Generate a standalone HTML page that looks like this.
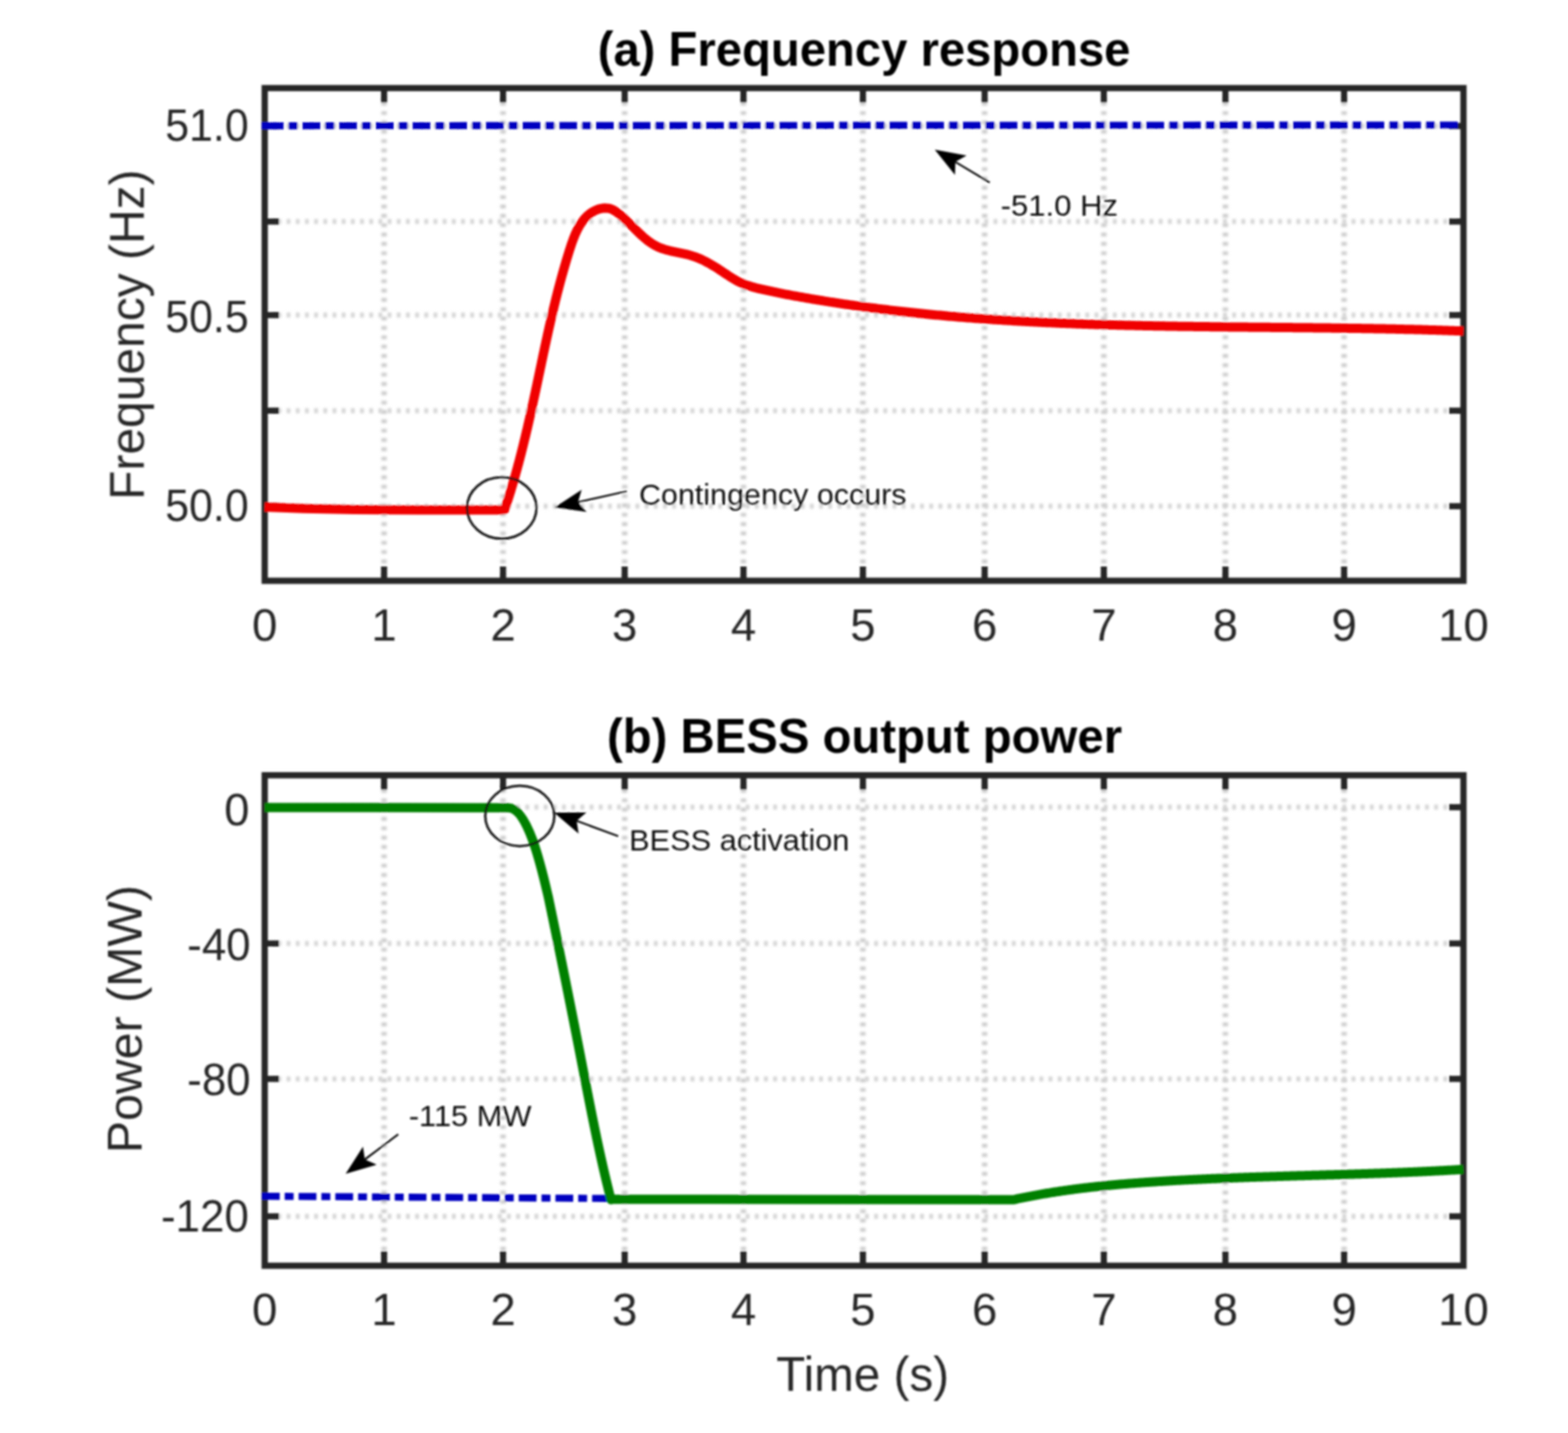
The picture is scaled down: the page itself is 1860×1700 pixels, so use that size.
<!DOCTYPE html>
<html><head><meta charset="utf-8"><title>Frequency response and BESS output power</title><style>html,body{margin:0;padding:0;background:#fff;width:1860px;height:1700px;overflow:hidden}svg{display:block}</style></head><body>
<svg width="1860" height="1700" viewBox="0 0 1860 1700">
<rect width="1860" height="1700" fill="#fff"/>
<defs><filter id="gb" x="-2%" y="-2%" width="104%" height="104%"><feGaussianBlur stdDeviation="1.0"/></filter><filter id="soft" x="0" y="0" width="1860" height="1700" filterUnits="userSpaceOnUse"><feGaussianBlur stdDeviation="0.8"/></filter></defs>
<g filter="url(#soft)">
<g stroke="#cbcbcb" stroke-width="6.4" stroke-dasharray="4.4 6.68" fill="none" filter="url(#gb)"><line x1="455.6" y1="109.8" x2="455.6" y2="685"/><line x1="596.7" y1="109.8" x2="596.7" y2="685"/><line x1="741" y1="109.8" x2="741" y2="685"/><line x1="881.9" y1="109.8" x2="881.9" y2="685"/><line x1="1023.6" y1="109.8" x2="1023.6" y2="685"/><line x1="1168" y1="109.8" x2="1168" y2="685"/><line x1="1309.4" y1="109.8" x2="1309.4" y2="685"/><line x1="1453.6" y1="109.8" x2="1453.6" y2="685"/><line x1="1594.4" y1="109.8" x2="1594.4" y2="685"/></g>
<g stroke="#d3d3d3" stroke-width="6" stroke-dasharray="4.4 6.49" fill="none" filter="url(#gb)"><line x1="318.3" y1="149.5" x2="1732" y2="149.5"/><line x1="318.3" y1="262.8" x2="1732" y2="262.8"/><line x1="318.3" y1="373.8" x2="1732" y2="373.8"/><line x1="318.3" y1="487.2" x2="1732" y2="487.2"/><line x1="318.3" y1="600.5" x2="1732" y2="600.5"/></g>
<g stroke="#262626" stroke-width="7.4" fill="none"><line x1="455.6" y1="689" x2="455.6" y2="672"/><line x1="455.6" y1="104.5" x2="455.6" y2="121.5"/><line x1="596.7" y1="689" x2="596.7" y2="672"/><line x1="596.7" y1="104.5" x2="596.7" y2="121.5"/><line x1="741" y1="689" x2="741" y2="672"/><line x1="741" y1="104.5" x2="741" y2="121.5"/><line x1="881.9" y1="689" x2="881.9" y2="672"/><line x1="881.9" y1="104.5" x2="881.9" y2="121.5"/><line x1="1023.6" y1="689" x2="1023.6" y2="672"/><line x1="1023.6" y1="104.5" x2="1023.6" y2="121.5"/><line x1="1168" y1="689" x2="1168" y2="672"/><line x1="1168" y1="104.5" x2="1168" y2="121.5"/><line x1="1309.4" y1="689" x2="1309.4" y2="672"/><line x1="1309.4" y1="104.5" x2="1309.4" y2="121.5"/><line x1="1453.6" y1="689" x2="1453.6" y2="672"/><line x1="1453.6" y1="104.5" x2="1453.6" y2="121.5"/><line x1="1594.4" y1="689" x2="1594.4" y2="672"/><line x1="1594.4" y1="104.5" x2="1594.4" y2="121.5"/><line x1="314" y1="149.5" x2="331" y2="149.5"/><line x1="1736" y1="149.5" x2="1719" y2="149.5"/><line x1="314" y1="262.8" x2="331" y2="262.8"/><line x1="1736" y1="262.8" x2="1719" y2="262.8"/><line x1="314" y1="373.8" x2="331" y2="373.8"/><line x1="1736" y1="373.8" x2="1719" y2="373.8"/><line x1="314" y1="487.2" x2="331" y2="487.2"/><line x1="1736" y1="487.2" x2="1719" y2="487.2"/><line x1="314" y1="600.5" x2="331" y2="600.5"/><line x1="1736" y1="600.5" x2="1719" y2="600.5"/></g>
<rect x="314" y="104.5" width="1422" height="584.5" fill="none" stroke="#262626" stroke-width="7.4"/>
<line x1="310.5" y1="149.2" x2="317" y2="149.2" stroke="#0000c0" stroke-width="8.4"/>
<line x1="315.3" y1="149.2" x2="1730" y2="148.4" stroke="#0000c0" stroke-width="8.4" stroke-dasharray="21.12 5.9 10.6 5.9"/>
<path d="M314.0,601.6 L360.0,603.2 L420.0,604.5 L500.0,605.0 L594.0,604.9 L598.68,604.46 L599.43,602.25 L600.17,600.02 L600.91,597.79 L601.64,595.55 L602.37,593.31 L603.09,591.06 L603.80,588.81 L604.51,586.55 L605.21,584.28 L605.91,582.01 L606.60,579.73 L607.28,577.45 L607.96,575.16 L608.64,572.87 L609.31,570.58 L609.97,568.27 L610.63,565.97 L611.29,563.66 L611.93,561.35 L612.58,559.03 L613.22,556.71 L613.85,554.39 L614.48,552.06 L615.11,549.73 L615.73,547.39 L616.34,545.06 L616.95,542.72 L617.56,540.38 L618.16,538.03 L618.76,535.69 L619.36,533.34 L619.94,530.99 L620.53,528.64 L621.11,526.28 L621.69,523.93 L622.26,521.57 L622.83,519.22 L623.40,516.86 L623.96,514.50 L624.52,512.14 L625.08,509.78 L625.63,507.42 L626.18,505.06 L626.72,502.70 L627.26,500.34 L627.80,497.99 L628.34,495.63 L628.87,493.27 L629.40,490.91 L629.92,488.56 L630.45,486.20 L630.97,483.85 L631.48,481.50 L632.00,479.15 L632.51,476.80 L633.02,474.45 L633.53,472.11 L634.03,469.77 L634.54,467.43 L635.04,465.09 L635.54,462.76 L636.03,460.42 L636.53,458.09 L637.02,455.76 L637.51,453.43 L638.01,451.10 L638.50,448.78 L638.99,446.45 L639.48,444.13 L639.96,441.81 L640.45,439.49 L640.94,437.17 L641.43,434.85 L641.92,432.53 L642.40,430.21 L642.89,427.89 L643.38,425.58 L643.87,423.26 L644.36,420.95 L644.85,418.63 L645.35,416.32 L645.84,414.00 L646.34,411.69 L646.83,409.38 L647.33,407.06 L647.83,404.75 L648.33,402.44 L648.84,400.12 L649.35,397.81 L649.86,395.49 L650.37,393.18 L650.88,390.86 L651.40,388.55 L651.92,386.23 L652.45,383.91 L652.97,381.59 L653.51,379.28 L654.04,376.96 L654.58,374.63 L655.12,372.31 L655.67,369.99 L656.22,367.66 L656.78,365.34 L657.34,363.01 L657.90,360.68 L658.47,358.35 L659.05,356.02 L659.63,353.69 L660.21,351.35 L660.80,349.01 L661.40,346.68 L662.00,344.33 L662.61,341.99 L663.23,339.65 L663.85,337.30 L664.48,334.95 L665.11,332.60 L665.75,330.24 L666.40,327.88 L667.05,325.52 L667.72,323.16 L668.38,320.79 L669.06,318.43 L669.75,316.06 L670.44,313.68 L671.14,311.30 L671.85,308.92 L672.56,306.54 L673.29,304.15 L674.02,301.76 L674.76,299.37 L675.51,296.97 L676.28,294.58 L677.06,292.19 L677.85,289.81 L678.67,287.44 L679.52,285.10 L680.39,282.78 L681.30,280.49 L682.24,278.23 L683.22,276.01 L684.24,273.83 L685.31,271.70 L686.43,269.62 L687.59,267.60 L688.82,265.64 L690.10,263.74 L691.44,261.91 L692.84,260.16 L694.32,258.48 L695.86,256.89 L697.48,255.39 L699.18,253.98 L700.96,252.66 L702.82,251.45 L704.77,250.35 L706.79,249.37 L708.86,248.53 L710.98,247.84 L713.13,247.31 L715.31,246.97 L717.50,246.82 L719.68,246.88 L721.84,247.17 L723.98,247.69 L726.08,248.46 L728.13,249.46 L730.15,250.67 L732.13,252.03 L734.07,253.53 L735.97,255.11 L737.85,256.76 L739.70,258.44 L741.52,260.14 L743.33,261.87 L745.11,263.61 L746.88,265.37 L748.64,267.13 L750.39,268.89 L752.14,270.64 L753.89,272.38 L755.64,274.11 L757.39,275.81 L759.15,277.49 L760.93,279.14 L762.72,280.75 L764.54,282.32 L766.37,283.84 L768.23,285.31 L770.12,286.72 L772.05,288.07 L774.01,289.34 L776.01,290.55 L778.06,291.67 L780.15,292.71 L782.29,293.66 L784.48,294.53 L786.71,295.31 L788.99,296.02 L791.30,296.68 L793.64,297.28 L796.00,297.84 L798.38,298.37 L800.78,298.87 L803.19,299.36 L805.60,299.85 L808.01,300.34 L810.41,300.85 L812.81,301.38 L815.18,301.94 L817.54,302.54 L819.87,303.20 L822.17,303.92 L824.43,304.70 L826.67,305.53 L828.88,306.42 L831.07,307.37 L833.23,308.36 L835.37,309.40 L837.49,310.48 L839.59,311.60 L841.68,312.75 L843.75,313.94 L845.81,315.17 L847.85,316.42 L849.89,317.69 L851.92,318.99 L853.94,320.31 L855.96,321.64 L857.98,322.99 L860.00,324.34 L862.02,325.69 L864.05,327.02 L866.08,328.34 L868.13,329.63 L870.19,330.88 L872.27,332.10 L874.37,333.26 L876.49,334.36 L878.63,335.40 L880.80,336.36 L883.00,337.26 L885.22,338.09 L887.46,338.86 L889.72,339.57 L892.00,340.24 L894.30,340.88 L896.60,341.48 L898.92,342.05 L901.24,342.60 L903.57,343.14 L905.91,343.67 L908.24,344.19 L910.58,344.70 L912.93,345.21 L915.27,345.71 L917.62,346.21 L919.97,346.69 L922.32,347.17 L924.67,347.65 L927.03,348.12 L929.39,348.58 L931.75,349.03 L934.11,349.49 L936.47,349.93 L938.84,350.38 L941.20,350.81 L943.57,351.25 L945.94,351.67 L948.30,352.10 L950.67,352.52 L953.04,352.94 L955.41,353.35 L957.78,353.76 L960.15,354.17 L962.52,354.57 L964.89,354.98 L967.26,355.37 L969.63,355.77 L972.00,356.16 L974.37,356.54 L976.75,356.93 L979.12,357.31 L981.49,357.69 L983.86,358.06 L986.24,358.43 L988.61,358.80 L990.98,359.17 L993.36,359.53 L995.73,359.89 L998.11,360.24 L1000.48,360.59 L1002.86,360.94 L1005.23,361.29 L1007.61,361.63 L1009.99,361.97 L1012.36,362.31 L1014.74,362.64 L1017.12,362.97 L1019.49,363.30 L1021.87,363.62 L1024.25,363.94 L1026.63,364.26 L1029.00,364.58 L1031.38,364.89 L1033.76,365.20 L1036.14,365.51 L1038.52,365.81 L1040.90,366.11 L1043.28,366.41 L1045.66,366.71 L1048.04,367.00 L1050.42,367.29 L1052.80,367.58 L1055.18,367.86 L1057.57,368.14 L1059.95,368.42 L1062.33,368.70 L1064.71,368.97 L1067.09,369.24 L1069.48,369.51 L1071.86,369.77 L1074.24,370.04 L1076.63,370.30 L1079.01,370.55 L1081.39,370.81 L1083.78,371.06 L1086.16,371.31 L1088.55,371.55 L1090.93,371.80 L1093.32,372.04 L1095.70,372.28 L1098.09,372.52 L1100.47,372.75 L1102.86,372.98 L1105.25,373.21 L1107.63,373.44 L1110.02,373.66 L1112.41,373.88 L1114.79,374.10 L1117.18,374.32 L1119.57,374.53 L1121.96,374.74 L1124.35,374.95 L1126.73,375.16 L1129.12,375.37 L1131.51,375.57 L1133.90,375.77 L1136.29,375.97 L1138.68,376.16 L1141.07,376.36 L1143.46,376.55 L1145.85,376.74 L1148.24,376.92 L1150.63,377.11 L1153.02,377.29 L1155.41,377.47 L1157.80,377.65 L1160.19,377.83 L1162.58,378.00 L1164.97,378.17 L1167.37,378.34 L1169.76,378.51 L1172.15,378.67 L1174.54,378.84 L1176.93,379.00 L1179.33,379.16 L1181.72,379.32 L1184.11,379.47 L1186.51,379.62 L1188.90,379.78 L1191.29,379.92 L1193.69,380.07 L1196.08,380.22 L1198.47,380.36 L1200.87,380.50 L1203.26,380.64 L1205.66,380.78 L1208.05,380.92 L1210.45,381.05 L1212.84,381.19 L1215.24,381.32 L1217.63,381.45 L1220.03,381.57 L1222.42,381.70 L1224.82,381.82 L1227.21,381.94 L1229.61,382.06 L1232.00,382.18 L1234.40,382.30 L1236.80,382.42 L1239.19,382.53 L1241.59,382.64 L1243.99,382.75 L1246.38,382.86 L1248.78,382.97 L1251.18,383.07 L1253.58,383.18 L1255.97,383.28 L1258.37,383.38 L1260.77,383.48 L1263.17,383.58 L1265.56,383.68 L1267.96,383.77 L1270.36,383.86 L1272.76,383.96 L1275.16,384.05 L1277.55,384.14 L1279.95,384.22 L1282.35,384.31 L1284.75,384.40 L1287.15,384.48 L1289.55,384.56 L1291.95,384.64 L1294.35,384.72 L1296.75,384.80 L1299.15,384.88 L1301.55,384.95 L1303.94,385.03 L1306.34,385.10 L1308.74,385.18 L1311.14,385.25 L1313.54,385.32 L1315.94,385.38 L1318.34,385.45 L1320.74,385.52 L1323.15,385.58 L1325.55,385.65 L1327.95,385.71 L1330.35,385.77 L1332.75,385.83 L1335.15,385.89 L1337.55,385.95 L1339.95,386.01 L1342.35,386.07 L1344.75,386.12 L1347.15,386.18 L1349.55,386.23 L1351.96,386.28 L1354.36,386.34 L1356.76,386.39 L1359.16,386.44 L1361.56,386.49 L1363.96,386.53 L1366.36,386.58 L1368.77,386.63 L1371.17,386.67 L1373.57,386.72 L1375.97,386.76 L1378.37,386.81 L1380.77,386.85 L1383.18,386.89 L1385.58,386.93 L1387.98,386.97 L1390.38,387.01 L1392.78,387.05 L1395.19,387.09 L1397.59,387.13 L1399.99,387.16 L1402.39,387.20 L1404.80,387.23 L1407.20,387.27 L1409.60,387.30 L1412.00,387.34 L1414.41,387.37 L1416.81,387.40 L1419.21,387.44 L1421.61,387.47 L1424.01,387.50 L1426.42,387.53 L1428.82,387.56 L1431.22,387.59 L1433.62,387.62 L1436.03,387.65 L1438.43,387.68 L1440.83,387.70 L1443.24,387.73 L1445.64,387.76 L1448.04,387.78 L1450.44,387.81 L1452.85,387.84 L1455.25,387.86 L1457.65,387.89 L1460.05,387.91 L1462.46,387.94 L1464.86,387.96 L1467.26,387.99 L1469.66,388.01 L1472.07,388.04 L1474.47,388.06 L1476.87,388.08 L1479.27,388.11 L1481.68,388.13 L1484.08,388.15 L1486.48,388.18 L1488.88,388.20 L1491.29,388.22 L1493.69,388.24 L1496.09,388.27 L1498.49,388.29 L1500.89,388.31 L1503.30,388.34 L1505.70,388.36 L1508.10,388.38 L1510.50,388.40 L1512.91,388.43 L1515.31,388.45 L1517.71,388.47 L1520.11,388.49 L1522.51,388.52 L1524.91,388.54 L1527.32,388.56 L1529.72,388.59 L1532.12,388.61 L1534.52,388.63 L1536.92,388.66 L1539.32,388.68 L1541.73,388.71 L1544.13,388.73 L1546.53,388.76 L1548.93,388.78 L1551.33,388.81 L1553.73,388.83 L1556.13,388.86 L1558.53,388.88 L1560.94,388.91 L1563.34,388.94 L1565.74,388.96 L1568.14,388.99 L1570.54,389.02 L1572.94,389.05 L1575.34,389.08 L1577.74,389.11 L1580.14,389.14 L1582.54,389.17 L1584.94,389.20 L1587.34,389.23 L1589.74,389.26 L1592.14,389.29 L1594.54,389.32 L1596.94,389.36 L1599.34,389.39 L1601.74,389.43 L1604.14,389.46 L1606.54,389.50 L1608.94,389.53 L1611.34,389.57 L1613.74,389.61 L1616.13,389.65 L1618.53,389.69 L1620.93,389.72 L1623.33,389.77 L1625.73,389.81 L1628.13,389.85 L1630.53,389.89 L1632.92,389.93 L1635.32,389.98 L1637.72,390.02 L1640.12,390.07 L1642.52,390.12 L1644.91,390.16 L1647.31,390.21 L1649.71,390.26 L1652.11,390.31 L1654.50,390.36 L1656.90,390.42 L1659.30,390.47 L1661.69,390.52 L1664.09,390.58 L1666.49,390.63 L1668.88,390.69 L1671.28,390.75 L1673.67,390.81 L1676.07,390.87 L1678.46,390.93 L1680.86,390.99 L1683.26,391.05 L1685.65,391.12 L1688.05,391.18 L1690.44,391.25 L1692.84,391.32 L1695.23,391.39 L1697.62,391.46 L1700.02,391.53 L1702.41,391.60 L1704.81,391.67 L1707.20,391.75 L1709.59,391.83 L1711.99,391.90 L1714.38,391.98 L1716.77,392.06 L1719.17,392.14 L1721.56,392.23 L1723.95,392.31 L1726.34,392.40 L1728.74,392.48 L1731.13,392.57 L1733.52,392.66 L1735.91,392.75" fill="none" stroke="#f00000" stroke-width="11" stroke-linejoin="round"/>
<g font-family='"Liberation Sans", Arial, Helvetica, sans-serif' font-size="54" fill="#262626" text-anchor="middle"><text x="314" y="760">0</text><text x="455.6" y="760">1</text><text x="596.7" y="760">2</text><text x="741" y="760">3</text><text x="881.9" y="760">4</text><text x="1023.6" y="760">5</text><text x="1168" y="760">6</text><text x="1309.4" y="760">7</text><text x="1453.6" y="760">8</text><text x="1594.4" y="760">9</text><text x="1736" y="760">10</text></g>
<text x="196.1" y="166.9" font-family='"Liberation Sans", Arial, Helvetica, sans-serif' font-size="54" fill="#262626" textLength="98.9" lengthAdjust="spacingAndGlyphs">51.0</text>
<text x="196.1" y="393.8" font-family='"Liberation Sans", Arial, Helvetica, sans-serif' font-size="54" fill="#262626" textLength="98.9" lengthAdjust="spacingAndGlyphs">50.5</text>
<text x="196.1" y="618.4" font-family='"Liberation Sans", Arial, Helvetica, sans-serif' font-size="54" fill="#262626" textLength="98.9" lengthAdjust="spacingAndGlyphs">50.0</text>
<text x="1025" y="77.8" font-family='"Liberation Sans", Arial, Helvetica, sans-serif' font-weight="bold" font-size="57" fill="#000" text-anchor="middle" textLength="632" lengthAdjust="spacingAndGlyphs">(a) Frequency response</text>
<text transform="translate(170.6,397) rotate(-90)" x="0" y="0" font-family='"Liberation Sans", Arial, Helvetica, sans-serif' font-size="57" fill="#262626" text-anchor="middle" textLength="392" lengthAdjust="spacingAndGlyphs">Frequency (Hz)</text>
<ellipse cx="595.2" cy="602.6" rx="41.2" ry="36.4" fill="none" stroke="#111" stroke-width="2.8"/>
<line x1="1133.3" y1="192.1" x2="1174" y2="216.5" stroke="#000" stroke-width="2.2"/>
<polygon points="1108.8,177.5 1132.8,207.6 1133.3,192.1 1146.6,184.4" fill="#000"/>
<line x1="685.6" y1="595.7" x2="743.6" y2="582.7" stroke="#000" stroke-width="2.2"/>
<polygon points="657.8,602 695.9,607.3 685.6,595.7 690.0,580.9" fill="#000"/>
<text x="1187.1" y="255.6" font-family='"Liberation Sans", Arial, Helvetica, sans-serif' font-size="34.5" fill="#111" textLength="139.2" lengthAdjust="spacingAndGlyphs">-51.0 Hz</text>
<text x="758.0" y="599.2" font-family='"Liberation Sans", Arial, Helvetica, sans-serif' font-size="34.5" fill="#111" textLength="317.4" lengthAdjust="spacingAndGlyphs">Contingency occurs</text>
<g stroke="#cbcbcb" stroke-width="6.4" stroke-dasharray="4.4 6.68" fill="none" filter="url(#gb)"><line x1="455.6" y1="925.0" x2="455.6" y2="1497.6"/><line x1="596.7" y1="925.0" x2="596.7" y2="1497.6"/><line x1="741" y1="925.0" x2="741" y2="1497.6"/><line x1="881.9" y1="925.0" x2="881.9" y2="1497.6"/><line x1="1023.6" y1="925.0" x2="1023.6" y2="1497.6"/><line x1="1168" y1="925.0" x2="1168" y2="1497.6"/><line x1="1309.4" y1="925.0" x2="1309.4" y2="1497.6"/><line x1="1453.6" y1="925.0" x2="1453.6" y2="1497.6"/><line x1="1594.4" y1="925.0" x2="1594.4" y2="1497.6"/></g>
<g stroke="#d3d3d3" stroke-width="6" stroke-dasharray="4.4 6.49" fill="none" filter="url(#gb)"><line x1="318.3" y1="957.6" x2="1732" y2="957.6"/><line x1="318.3" y1="1119.3" x2="1732" y2="1119.3"/><line x1="318.3" y1="1279.9" x2="1732" y2="1279.9"/><line x1="318.3" y1="1443" x2="1732" y2="1443"/></g>
<g stroke="#262626" stroke-width="7.4" fill="none"><line x1="455.6" y1="1501.6" x2="455.6" y2="1484.6"/><line x1="455.6" y1="919.7" x2="455.6" y2="936.7"/><line x1="596.7" y1="1501.6" x2="596.7" y2="1484.6"/><line x1="596.7" y1="919.7" x2="596.7" y2="936.7"/><line x1="741" y1="1501.6" x2="741" y2="1484.6"/><line x1="741" y1="919.7" x2="741" y2="936.7"/><line x1="881.9" y1="1501.6" x2="881.9" y2="1484.6"/><line x1="881.9" y1="919.7" x2="881.9" y2="936.7"/><line x1="1023.6" y1="1501.6" x2="1023.6" y2="1484.6"/><line x1="1023.6" y1="919.7" x2="1023.6" y2="936.7"/><line x1="1168" y1="1501.6" x2="1168" y2="1484.6"/><line x1="1168" y1="919.7" x2="1168" y2="936.7"/><line x1="1309.4" y1="1501.6" x2="1309.4" y2="1484.6"/><line x1="1309.4" y1="919.7" x2="1309.4" y2="936.7"/><line x1="1453.6" y1="1501.6" x2="1453.6" y2="1484.6"/><line x1="1453.6" y1="919.7" x2="1453.6" y2="936.7"/><line x1="1594.4" y1="1501.6" x2="1594.4" y2="1484.6"/><line x1="1594.4" y1="919.7" x2="1594.4" y2="936.7"/><line x1="314" y1="957.6" x2="331" y2="957.6"/><line x1="1736" y1="957.6" x2="1719" y2="957.6"/><line x1="314" y1="1119.3" x2="331" y2="1119.3"/><line x1="1736" y1="1119.3" x2="1719" y2="1119.3"/><line x1="314" y1="1279.9" x2="331" y2="1279.9"/><line x1="1736" y1="1279.9" x2="1719" y2="1279.9"/><line x1="314" y1="1443" x2="331" y2="1443"/><line x1="1736" y1="1443" x2="1719" y2="1443"/></g>
<rect x="314" y="919.7" width="1422" height="581.8999999999999" fill="none" stroke="#262626" stroke-width="7.4"/>
<line x1="310.7" y1="1419.1" x2="722" y2="1421.8" stroke="#0000c0" stroke-width="8.4" stroke-dasharray="21.12 5.9 10.6 5.9"/>
<path d="M314.0,958.0 L560.0,958.2 L603.0,958.2 C626,958.2 642,1028 650,1062.4 L650.05,1062.39 L650.20,1063.12 L650.35,1063.84 L650.51,1064.56 L650.66,1065.29 L650.81,1066.01 L650.96,1066.73 L651.11,1067.46 L651.26,1068.18 L651.41,1068.90 L651.57,1069.63 L651.72,1070.35 L651.87,1071.07 L652.02,1071.80 L652.17,1072.52 L652.32,1073.24 L652.47,1073.97 L652.62,1074.69 L652.77,1075.41 L652.93,1076.14 L653.08,1076.86 L653.23,1077.58 L653.38,1078.31 L653.53,1079.03 L653.68,1079.75 L653.83,1080.48 L653.98,1081.20 L654.13,1081.92 L654.28,1082.65 L654.43,1083.37 L654.58,1084.09 L654.73,1084.82 L654.88,1085.54 L655.03,1086.26 L655.18,1086.99 L655.33,1087.71 L655.49,1088.43 L655.64,1089.16 L655.79,1089.88 L655.94,1090.60 L656.09,1091.33 L656.24,1092.05 L656.39,1092.77 L656.54,1093.50 L656.69,1094.22 L656.84,1094.94 L656.98,1095.67 L657.13,1096.39 L657.28,1097.11 L657.43,1097.84 L657.58,1098.56 L657.73,1099.29 L657.88,1100.01 L658.03,1100.73 L658.18,1101.46 L658.33,1102.18 L658.48,1102.90 L658.63,1103.63 L658.78,1104.35 L658.93,1105.07 L659.08,1105.80 L659.23,1106.52 L659.38,1107.24 L659.53,1107.97 L659.67,1108.69 L659.82,1109.42 L659.97,1110.14 L660.12,1110.86 L660.27,1111.59 L660.42,1112.31 L660.57,1113.03 L660.72,1113.76 L660.87,1114.48 L661.01,1115.20 L661.16,1115.93 L661.31,1116.65 L661.46,1117.38 L661.61,1118.10 L661.76,1118.82 L661.90,1119.55 L662.05,1120.27 L662.20,1120.99 L662.35,1121.72 L662.50,1122.44 L662.65,1123.17 L662.79,1123.89 L662.94,1124.61 L663.09,1125.34 L663.24,1126.06 L663.39,1126.78 L663.53,1127.51 L663.68,1128.23 L663.83,1128.96 L663.98,1129.68 L664.13,1130.40 L664.27,1131.13 L664.42,1131.85 L664.57,1132.57 L664.72,1133.30 L664.86,1134.02 L665.01,1134.75 L665.16,1135.47 L665.31,1136.19 L665.45,1136.92 L665.60,1137.64 L665.75,1138.37 L665.90,1139.09 L666.04,1139.81 L666.19,1140.54 L666.34,1141.26 L666.49,1141.98 L666.63,1142.71 L666.78,1143.43 L666.93,1144.16 L667.07,1144.88 L667.22,1145.60 L667.37,1146.33 L667.51,1147.05 L667.66,1147.78 L667.81,1148.50 L667.96,1149.22 L668.10,1149.95 L668.25,1150.67 L668.40,1151.40 L668.54,1152.12 L668.69,1152.85 L668.83,1153.57 L668.98,1154.29 L669.13,1155.02 L669.27,1155.74 L669.42,1156.47 L669.57,1157.19 L669.71,1157.91 L669.86,1158.64 L670.01,1159.36 L670.15,1160.09 L670.30,1160.81 L670.44,1161.53 L670.59,1162.26 L670.74,1162.98 L670.88,1163.71 L671.03,1164.43 L671.17,1165.16 L671.32,1165.88 L671.47,1166.60 L671.61,1167.33 L671.76,1168.05 L671.90,1168.78 L672.05,1169.50 L672.19,1170.23 L672.34,1170.95 L672.49,1171.67 L672.63,1172.40 L672.78,1173.12 L672.92,1173.85 L673.07,1174.57 L673.21,1175.30 L673.36,1176.02 L673.50,1176.75 L673.65,1177.47 L673.79,1178.19 L673.94,1178.92 L674.08,1179.64 L674.23,1180.37 L674.37,1181.09 L674.52,1181.82 L674.66,1182.54 L674.81,1183.27 L674.95,1183.99 L675.10,1184.71 L675.24,1185.44 L675.39,1186.16 L675.53,1186.89 L675.68,1187.61 L675.82,1188.34 L675.97,1189.06 L676.11,1189.79 L676.26,1190.51 L676.40,1191.24 L676.55,1191.96 L676.69,1192.69 L676.83,1193.41 L676.98,1194.13 L677.12,1194.86 L677.27,1195.58 L677.41,1196.31 L677.56,1197.03 L677.70,1197.76 L677.84,1198.48 L677.99,1199.21 L678.13,1199.93 L678.28,1200.66 L678.42,1201.38 L678.56,1202.11 L678.71,1202.83 L678.85,1203.56 L679.00,1204.28 L679.14,1205.01 L679.28,1205.73 L679.43,1206.46 L679.57,1207.18 L679.71,1207.91 L679.86,1208.63 L680.00,1209.36 L680.14,1210.08 L680.29,1210.81 L680.43,1211.53 L680.58,1212.26 L680.72,1212.98 L680.86,1213.71 L681.01,1214.43 L681.15,1215.16 L681.29,1215.88 L681.43,1216.61 L681.58,1217.33 L681.72,1218.06 L681.86,1218.78 L682.01,1219.51 L682.15,1220.23 L682.29,1220.96 L682.44,1221.68 L682.58,1222.41 L682.72,1223.13 L682.86,1223.86 L683.01,1224.58 L683.15,1225.31 L683.29,1226.03 L683.44,1226.76 L683.58,1227.48 L683.72,1228.21 L683.86,1228.93 L684.01,1229.66 L684.15,1230.38 L684.29,1231.11 L684.43,1231.84 L684.58,1232.56 L684.72,1233.29 L684.86,1234.01 L685.00,1234.74 L685.15,1235.46 L685.29,1236.19 L685.43,1236.91 L685.57,1237.64 L685.71,1238.36 L685.86,1239.09 L686.00,1239.82 L686.14,1240.54 L686.28,1241.27 L686.42,1241.99 L686.57,1242.72 L686.71,1243.44 L686.85,1244.17 L686.99,1244.89 L687.13,1245.62 L687.27,1246.35 L687.42,1247.07 L687.56,1247.80 L687.70,1248.52 L687.84,1249.25 L687.98,1249.97 L688.12,1250.70 L688.27,1251.43 L688.41,1252.15 L688.55,1252.88 L688.69,1253.60 L688.83,1254.33 L688.97,1255.05 L689.11,1255.78 L689.26,1256.51 L689.40,1257.23 L689.54,1257.96 L689.68,1258.68 L689.82,1259.41 L689.96,1260.14 L690.10,1260.86 L690.24,1261.59 L690.38,1262.31 L690.53,1263.04 L690.67,1263.77 L690.81,1264.49 L690.95,1265.22 L691.09,1265.94 L691.23,1266.67 L691.37,1267.40 L691.51,1268.12 L691.65,1268.85 L691.79,1269.57 L691.93,1270.30 L692.07,1271.03 L692.21,1271.75 L692.36,1272.48 L692.50,1273.20 L692.64,1273.93 L692.78,1274.66 L692.92,1275.38 L693.06,1276.11 L693.20,1276.84 L693.34,1277.56 L693.48,1278.29 L693.62,1279.01 L693.76,1279.74 L693.90,1280.47 L694.04,1281.19 L694.19,1281.92 L694.33,1282.64 L694.47,1283.37 L694.61,1284.10 L694.75,1284.82 L694.89,1285.55 L695.03,1286.27 L695.17,1287.00 L695.31,1287.73 L695.46,1288.45 L695.60,1289.18 L695.74,1289.90 L695.88,1290.63 L696.02,1291.36 L696.16,1292.08 L696.30,1292.81 L696.44,1293.53 L696.59,1294.26 L696.73,1294.99 L696.87,1295.71 L697.01,1296.44 L697.15,1297.16 L697.30,1297.89 L697.44,1298.62 L697.58,1299.34 L697.72,1300.07 L697.86,1300.79 L698.01,1301.52 L698.15,1302.24 L698.29,1302.97 L698.43,1303.70 L698.58,1304.42 L698.72,1305.15 L698.86,1305.87 L699.00,1306.60 L699.15,1307.32 L699.29,1308.05 L699.43,1308.77 L699.58,1309.50 L699.72,1310.22 L699.86,1310.95 L700.01,1311.67 L700.15,1312.40 L700.29,1313.12 L700.44,1313.85 L700.58,1314.58 L700.73,1315.30 L700.87,1316.03 L701.02,1316.75 L701.16,1317.48 L701.30,1318.20 L701.45,1318.92 L701.59,1319.65 L701.74,1320.37 L701.88,1321.10 L702.03,1321.82 L702.17,1322.55 L702.32,1323.27 L702.47,1324.00 L702.61,1324.72 L702.76,1325.45 L702.90,1326.17 L703.05,1326.90 L703.20,1327.62 L703.34,1328.34 L703.49,1329.07 L703.64,1329.79 L703.78,1330.52 L703.93,1331.24 L704.08,1331.96 L704.23,1332.69 L704.37,1333.41 L704.52,1334.14 L704.67,1334.86 L704.82,1335.58 L704.97,1336.31 L705.11,1337.03 L705.26,1337.75 L705.41,1338.48 L705.56,1339.20 L705.71,1339.92 L705.86,1340.65 L706.01,1341.37 L706.16,1342.09 L706.31,1342.82 L706.46,1343.54 L706.61,1344.26 L706.76,1344.98 L706.91,1345.71 L707.06,1346.43 L707.21,1347.15 L707.36,1347.87 L707.52,1348.60 L707.67,1349.32 L707.82,1350.04 L707.97,1350.76 L708.12,1351.49 L708.28,1352.21 L708.43,1352.93 L708.58,1353.65 L708.74,1354.37 L708.89,1355.10 L709.04,1355.82 L709.20,1356.54 L709.35,1357.26 L709.51,1357.98 L709.66,1358.70 L709.82,1359.42 L709.97,1360.15 L710.13,1360.87 L710.28,1361.59 L710.44,1362.31 L710.59,1363.03 L710.75,1363.75 L710.91,1364.47 L711.06,1365.19 L711.22,1365.91 L711.38,1366.63 L711.54,1367.35 L711.69,1368.07 L711.85,1368.79 L712.01,1369.51 L712.17,1370.23 L712.33,1370.95 L712.49,1371.67 L712.65,1372.39 L712.81,1373.11 L712.97,1373.83 L713.13,1374.55 L713.29,1375.27 L713.45,1375.99 L713.61,1376.71 L713.77,1377.43 L713.93,1378.15 L714.10,1378.86 L714.26,1379.58 L714.42,1380.30 L714.58,1381.02 L714.75,1381.74 L714.91,1382.46 L715.07,1383.17 L715.24,1383.89 L715.40,1384.61 L715.57,1385.33 L715.73,1386.05 L715.90,1386.76 L716.06,1387.48 L716.23,1388.20 L716.40,1388.92 L716.56,1389.63 L716.73,1390.35 L716.90,1391.07 L717.07,1391.78 L717.23,1392.50 L717.40,1393.22 L717.57,1393.93 L717.74,1394.65 L717.91,1395.36 L718.08,1396.08 L718.25,1396.80 L718.42,1397.51 L718.59,1398.23 L718.76,1398.94 L718.93,1399.66 L719.10,1400.37 L719.28,1401.09 L719.45,1401.80 L719.62,1402.52 L719.79,1403.23 L719.97,1403.95 L720.14,1404.66 L720.32,1405.38 L720.49,1406.09 L720.66,1406.81 L720.84,1407.52 L721.02,1408.23 L721.19,1408.95 L721.37,1409.66 L721.55,1410.37 L721.72,1411.09 L721.90,1411.80 L722.08,1412.51 L722.26,1413.23 L722.44,1413.94 L722.61,1414.65 L722.79,1415.36 L722.97,1416.08 L723.15,1416.79 L723.34,1417.50 L723.52,1418.21 L723.70,1418.92 L723.88,1419.64 L724.06,1420.35 L724.24,1421.06 L724.43,1421.77 L724.61,1422.48 L724.80,1423.19 L726.0,1422.6 L1203.0,1423.2 L1202.97,1423.07 L1204.28,1422.78 L1205.60,1422.50 L1206.91,1422.22 L1208.23,1421.94 L1209.54,1421.67 L1210.86,1421.40 L1212.17,1421.13 L1213.49,1420.86 L1214.80,1420.59 L1216.12,1420.33 L1217.44,1420.07 L1218.75,1419.81 L1220.07,1419.55 L1221.39,1419.30 L1222.71,1419.05 L1224.02,1418.80 L1225.34,1418.55 L1226.66,1418.31 L1227.98,1418.06 L1229.30,1417.82 L1230.62,1417.58 L1231.94,1417.35 L1233.26,1417.11 L1234.58,1416.88 L1235.90,1416.65 L1237.22,1416.42 L1238.54,1416.19 L1239.86,1415.97 L1241.18,1415.75 L1242.50,1415.53 L1243.83,1415.31 L1245.15,1415.10 L1246.47,1414.88 L1247.79,1414.67 L1249.12,1414.46 L1250.44,1414.25 L1251.76,1414.05 L1253.09,1413.84 L1254.41,1413.64 L1255.73,1413.44 L1257.06,1413.24 L1258.38,1413.04 L1259.71,1412.85 L1261.03,1412.66 L1262.36,1412.47 L1263.68,1412.28 L1265.01,1412.09 L1266.33,1411.90 L1267.66,1411.72 L1268.98,1411.54 L1270.31,1411.36 L1271.64,1411.18 L1272.96,1411.00 L1274.29,1410.83 L1275.62,1410.65 L1276.95,1410.48 L1278.27,1410.31 L1279.60,1410.14 L1280.93,1409.98 L1282.26,1409.81 L1283.59,1409.65 L1284.91,1409.49 L1286.24,1409.33 L1287.57,1409.17 L1288.90,1409.01 L1290.23,1408.86 L1291.56,1408.70 L1292.89,1408.55 L1294.22,1408.40 L1295.55,1408.25 L1296.88,1408.10 L1298.21,1407.96 L1299.54,1407.81 L1300.87,1407.67 L1302.20,1407.53 L1303.53,1407.38 L1304.86,1407.25 L1306.19,1407.11 L1307.53,1406.97 L1308.86,1406.84 L1310.19,1406.70 L1311.52,1406.57 L1312.85,1406.44 L1314.19,1406.31 L1315.52,1406.18 L1316.85,1406.06 L1318.18,1405.93 L1319.52,1405.80 L1320.85,1405.68 L1322.18,1405.56 L1323.52,1405.44 L1324.85,1405.32 L1326.18,1405.20 L1327.52,1405.08 L1328.85,1404.97 L1330.18,1404.85 L1331.52,1404.74 L1332.85,1404.63 L1334.19,1404.52 L1335.52,1404.41 L1336.85,1404.30 L1338.19,1404.19 L1339.52,1404.08 L1340.86,1403.98 L1342.19,1403.87 L1343.53,1403.77 L1344.86,1403.66 L1346.20,1403.56 L1347.54,1403.46 L1348.87,1403.36 L1350.21,1403.26 L1351.54,1403.17 L1352.88,1403.07 L1354.21,1402.97 L1355.55,1402.88 L1356.89,1402.78 L1358.22,1402.69 L1359.56,1402.60 L1360.90,1402.51 L1362.23,1402.41 L1363.57,1402.32 L1364.91,1402.24 L1366.24,1402.15 L1367.58,1402.06 L1368.92,1401.97 L1370.25,1401.89 L1371.59,1401.80 L1372.93,1401.72 L1374.26,1401.63 L1375.60,1401.55 L1376.94,1401.47 L1378.28,1401.39 L1379.61,1401.31 L1380.95,1401.23 L1382.29,1401.15 L1383.63,1401.07 L1384.97,1400.99 L1386.30,1400.91 L1387.64,1400.83 L1388.98,1400.76 L1390.32,1400.68 L1391.66,1400.61 L1392.99,1400.53 L1394.33,1400.46 L1395.67,1400.38 L1397.01,1400.31 L1398.35,1400.24 L1399.68,1400.17 L1401.02,1400.10 L1402.36,1400.02 L1403.70,1399.95 L1405.04,1399.88 L1406.38,1399.82 L1407.72,1399.75 L1409.06,1399.68 L1410.39,1399.61 L1411.73,1399.54 L1413.07,1399.48 L1414.41,1399.41 L1415.75,1399.35 L1417.09,1399.28 L1418.43,1399.22 L1419.77,1399.15 L1421.11,1399.09 L1422.45,1399.03 L1423.79,1398.97 L1425.12,1398.90 L1426.46,1398.84 L1427.80,1398.78 L1429.14,1398.72 L1430.48,1398.66 L1431.82,1398.60 L1433.16,1398.54 L1434.50,1398.48 L1435.84,1398.42 L1437.18,1398.37 L1438.52,1398.31 L1439.86,1398.25 L1441.20,1398.20 L1442.54,1398.14 L1443.88,1398.08 L1445.22,1398.03 L1446.56,1397.97 L1447.90,1397.92 L1449.24,1397.86 L1450.58,1397.81 L1451.92,1397.76 L1453.26,1397.70 L1454.60,1397.65 L1455.94,1397.60 L1457.28,1397.55 L1458.62,1397.50 L1459.96,1397.44 L1461.30,1397.39 L1462.64,1397.34 L1463.98,1397.29 L1465.32,1397.24 L1466.66,1397.19 L1468.00,1397.14 L1469.35,1397.10 L1470.69,1397.05 L1472.03,1397.00 L1473.37,1396.95 L1474.71,1396.90 L1476.05,1396.86 L1477.39,1396.81 L1478.73,1396.76 L1480.07,1396.71 L1481.41,1396.67 L1482.75,1396.62 L1484.09,1396.58 L1485.43,1396.53 L1486.77,1396.49 L1488.12,1396.44 L1489.46,1396.40 L1490.80,1396.35 L1492.14,1396.31 L1493.48,1396.26 L1494.82,1396.22 L1496.16,1396.18 L1497.50,1396.13 L1498.84,1396.09 L1500.18,1396.05 L1501.52,1396.00 L1502.87,1395.96 L1504.21,1395.92 L1505.55,1395.88 L1506.89,1395.84 L1508.23,1395.79 L1509.57,1395.75 L1510.91,1395.71 L1512.25,1395.67 L1513.59,1395.63 L1514.94,1395.59 L1516.28,1395.55 L1517.62,1395.51 L1518.96,1395.47 L1520.30,1395.43 L1521.64,1395.38 L1522.98,1395.34 L1524.32,1395.30 L1525.67,1395.26 L1527.01,1395.23 L1528.35,1395.19 L1529.69,1395.15 L1531.03,1395.11 L1532.37,1395.07 L1533.71,1395.03 L1535.05,1394.99 L1536.39,1394.95 L1537.74,1394.91 L1539.08,1394.87 L1540.42,1394.83 L1541.76,1394.79 L1543.10,1394.75 L1544.44,1394.72 L1545.78,1394.68 L1547.12,1394.64 L1548.47,1394.60 L1549.81,1394.56 L1551.15,1394.52 L1552.49,1394.48 L1553.83,1394.45 L1555.17,1394.41 L1556.51,1394.37 L1557.85,1394.33 L1559.19,1394.29 L1560.54,1394.25 L1561.88,1394.21 L1563.22,1394.18 L1564.56,1394.14 L1565.90,1394.10 L1567.24,1394.06 L1568.58,1394.02 L1569.92,1393.98 L1571.26,1393.94 L1572.61,1393.90 L1573.95,1393.87 L1575.29,1393.83 L1576.63,1393.79 L1577.97,1393.75 L1579.31,1393.71 L1580.65,1393.67 L1581.99,1393.63 L1583.33,1393.59 L1584.67,1393.55 L1586.01,1393.51 L1587.36,1393.47 L1588.70,1393.43 L1590.04,1393.39 L1591.38,1393.35 L1592.72,1393.31 L1594.06,1393.27 L1595.40,1393.23 L1596.74,1393.19 L1598.08,1393.15 L1599.42,1393.11 L1600.76,1393.07 L1602.10,1393.03 L1603.44,1392.99 L1604.78,1392.94 L1606.13,1392.90 L1607.47,1392.86 L1608.81,1392.82 L1610.15,1392.78 L1611.49,1392.73 L1612.83,1392.69 L1614.17,1392.65 L1615.51,1392.60 L1616.85,1392.56 L1618.19,1392.52 L1619.53,1392.47 L1620.87,1392.43 L1622.21,1392.39 L1623.55,1392.34 L1624.89,1392.30 L1626.23,1392.25 L1627.57,1392.21 L1628.91,1392.16 L1630.25,1392.12 L1631.59,1392.07 L1632.93,1392.02 L1634.27,1391.98 L1635.61,1391.93 L1636.95,1391.88 L1638.29,1391.84 L1639.63,1391.79 L1640.97,1391.74 L1642.31,1391.69 L1643.65,1391.64 L1644.99,1391.59 L1646.33,1391.55 L1647.66,1391.50 L1649.00,1391.45 L1650.34,1391.40 L1651.68,1391.35 L1653.02,1391.29 L1654.36,1391.24 L1655.70,1391.19 L1657.04,1391.14 L1658.38,1391.09 L1659.72,1391.03 L1661.06,1390.98 L1662.39,1390.93 L1663.73,1390.87 L1665.07,1390.82 L1666.41,1390.77 L1667.75,1390.71 L1669.09,1390.66 L1670.43,1390.60 L1671.77,1390.54 L1673.10,1390.49 L1674.44,1390.43 L1675.78,1390.37 L1677.12,1390.32 L1678.46,1390.26 L1679.80,1390.20 L1681.13,1390.14 L1682.47,1390.08 L1683.81,1390.02 L1685.15,1389.96 L1686.49,1389.90 L1687.82,1389.84 L1689.16,1389.77 L1690.50,1389.71 L1691.84,1389.65 L1693.17,1389.59 L1694.51,1389.52 L1695.85,1389.46 L1697.19,1389.39 L1698.52,1389.33 L1699.86,1389.26 L1701.20,1389.20 L1702.54,1389.13 L1703.87,1389.06 L1705.21,1388.99 L1706.55,1388.92 L1707.88,1388.86 L1709.22,1388.79 L1710.56,1388.72 L1711.89,1388.65 L1713.23,1388.57 L1714.57,1388.50 L1715.90,1388.43 L1717.24,1388.36 L1718.58,1388.28 L1719.91,1388.21 L1721.25,1388.13 L1722.59,1388.06 L1723.92,1387.98 L1725.26,1387.91 L1726.59,1387.83 L1727.93,1387.75 L1729.26,1387.67 L1730.60,1387.60 L1731.94,1387.52 L1733.27,1387.44 L1734.61,1387.35 L1735.94,1387.27" fill="none" stroke="#008000" stroke-width="11" stroke-linejoin="round"/>
<g font-family='"Liberation Sans", Arial, Helvetica, sans-serif' font-size="54" fill="#262626" text-anchor="middle"><text x="314" y="1571.5">0</text><text x="455.6" y="1571.5">1</text><text x="596.7" y="1571.5">2</text><text x="741" y="1571.5">3</text><text x="881.9" y="1571.5">4</text><text x="1023.6" y="1571.5">5</text><text x="1168" y="1571.5">6</text><text x="1309.4" y="1571.5">7</text><text x="1453.6" y="1571.5">8</text><text x="1594.4" y="1571.5">9</text><text x="1736" y="1571.5">10</text></g>
<text x="265.9" y="978.5" font-family='"Liberation Sans", Arial, Helvetica, sans-serif' font-size="54" fill="#262626" textLength="29.9" lengthAdjust="spacingAndGlyphs">0</text>
<text x="222.1" y="1139.2" font-family='"Liberation Sans", Arial, Helvetica, sans-serif' font-size="54" fill="#262626" textLength="75.2" lengthAdjust="spacingAndGlyphs">-40</text>
<text x="222.1" y="1299.2" font-family='"Liberation Sans", Arial, Helvetica, sans-serif' font-size="54" fill="#262626" textLength="75.2" lengthAdjust="spacingAndGlyphs">-80</text>
<text x="190.9" y="1460.7" font-family='"Liberation Sans", Arial, Helvetica, sans-serif' font-size="54" fill="#262626" textLength="104.2" lengthAdjust="spacingAndGlyphs">-120</text>
<text x="1025.5" y="892.7" font-family='"Liberation Sans", Arial, Helvetica, sans-serif' font-weight="bold" font-size="57" fill="#000" text-anchor="middle" textLength="611" lengthAdjust="spacingAndGlyphs">(b) BESS output power</text>
<text transform="translate(168,1209) rotate(-90)" x="0" y="0" font-family='"Liberation Sans", Arial, Helvetica, sans-serif' font-size="57" fill="#262626" text-anchor="middle" textLength="318" lengthAdjust="spacingAndGlyphs">Power (MW)</text>
<text x="1023.3" y="1649.9" font-family='"Liberation Sans", Arial, Helvetica, sans-serif' font-size="57" fill="#262626" text-anchor="middle" textLength="205" lengthAdjust="spacingAndGlyphs">Time (s)</text>
<ellipse cx="616.6" cy="968" rx="41" ry="35.8" fill="none" stroke="#111" stroke-width="2.8"/>
<line x1="684.0" y1="973.8" x2="733.4" y2="992" stroke="#000" stroke-width="2.2"/>
<polygon points="657.3,964 686.4,989.1 684.0,973.8 695.7,963.8" fill="#000"/>
<line x1="432.8" y1="1375.5" x2="472.4" y2="1345.6" stroke="#000" stroke-width="2.2"/>
<polygon points="410,1392.6 446.9,1381.7 432.8,1375.5 430.6,1360.2" fill="#000"/>
<text x="746.3" y="1008.6" font-family='"Liberation Sans", Arial, Helvetica, sans-serif' font-size="34.5" fill="#111" textLength="261.3" lengthAdjust="spacingAndGlyphs">BESS activation</text>
<text x="484.9" y="1336.3" font-family='"Liberation Sans", Arial, Helvetica, sans-serif' font-size="34.5" fill="#111" textLength="145.6" lengthAdjust="spacingAndGlyphs">-115 MW</text>
</g>
</svg>
</body></html>
